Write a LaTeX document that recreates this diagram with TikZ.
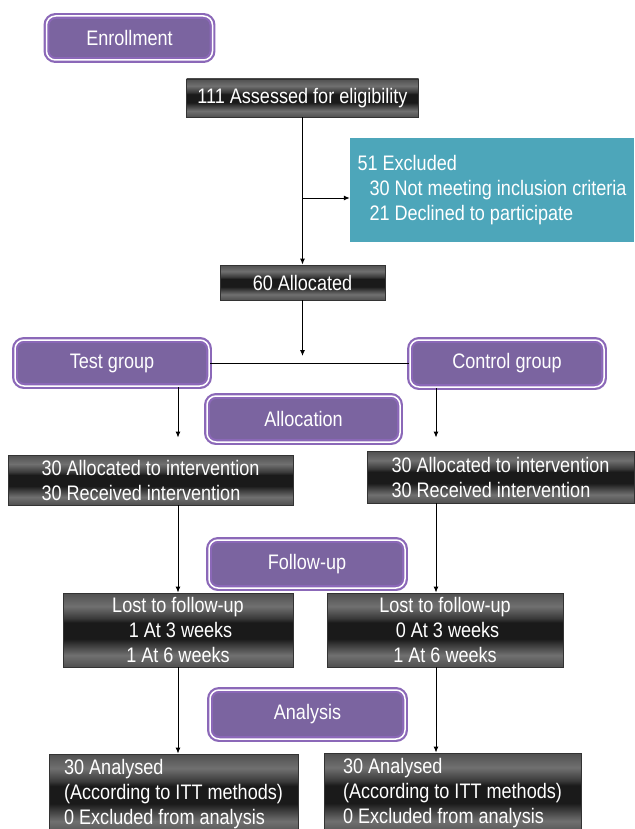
\documentclass[tikz,border=0pt]{standalone}
\usepackage{fontspec}
\setmainfont{Liberation Sans}[FakeStretch=0.86]
\usetikzlibrary{arrows.meta}

\definecolor{phasefill}{HTML}{7B64A0}
\definecolor{phaseedge}{HTML}{8B68B8}
\definecolor{exclfill}{HTML}{4DA6BA}
\definecolor{barlow}{HTML}{505050}
\definecolor{barhigh}{HTML}{707070}
\definecolor{barmid}{HTML}{3A3A3A}
\definecolor{bardark}{HTML}{1A1A1A}

% 黒い帯のグラデーション
\pgfdeclareverticalshading{barshade}{100bp}{color(0bp)=(barlow); color(25bp)=(barlow);
  color(33bp)=(barhigh); color(40bp)=(barmid); color(44bp)=(bardark); color(55bp)=(bardark);
  color(58bp)=(barmid); color(66bp)=(barhigh); color(75bp)=(barlow); color(100bp)=(barlow)}

\begin{document}
\begin{tikzpicture}[x=1pt, y=-1pt, >={Latex[length=6pt, width=5pt]},
    every node/.style={font=\fontsize{21}{25}\selectfont, text=white, inner sep=0pt},
    phase/.style={rectangle, rounded corners=9pt, fill=phasefill, draw=phaseedge,
      line width=2.2pt, double=white, double distance=1.5pt},
    bar/.style={rectangle, shading=barshade, draw=black!80, line width=0.8pt},
    link/.style={line width=1pt}]
    \path[use as bounding box, fill=white] (0,0) rectangle (634,829);

    % 段階の見出し
    \node[phase, minimum width=166, minimum height=44] (enroll) at (129.5, 38) {Enrollment};
    \node[phase, minimum width=193, minimum height=46] (allocation) at (303.5, 419) {Allocation};
    \node[phase, minimum width=196, minimum height=48] (followup) at (307, 564) {Follow-up};
    \node[phase, minimum width=195, minimum height=49] (analysis) at (307.5, 714.5) {Analysis};

    % 登録と割り付け
    \node[bar, minimum width=232, minimum height=38] (assess) at (302.5, 98) {111 Assessed for eligibility};
    \node[rectangle, fill=exclfill, minimum width=284, minimum height=104, align=left] (excl) at (492, 190)
      {51 Excluded\\\hspace*{12pt}30 Not meeting inclusion criteria\\\hspace*{12pt}21 Declined to participate};
    \node[bar, minimum width=165, minimum height=35] (alloc60) at (302.5, 282.5) {60 Allocated};

    % 2つの群
    \node[phase, minimum width=194, minimum height=46] (test) at (112, 363) {Test group};
    \node[phase, minimum width=194, minimum height=47] (control) at (507, 363.5) {Control group};

    \node[bar, minimum width=285, minimum height=50, align=left] (allocL) at (150.5, 480)
      {30 Allocated to intervention\\30 Received intervention};
    \node[bar, minimum width=267, minimum height=52, align=left] (allocR) at (500.5, 477)
      {30 Allocated to intervention\\30 Received intervention};

    \node[bar, minimum width=230, minimum height=74, align=center] (lostL) at (178, 630)
      {Lost to follow-up\\\ 1 At 3 weeks\\1 At 6 weeks};
    \node[bar, minimum width=236, minimum height=74, align=center] (lostR) at (445, 630)
      {Lost to follow-up\\\ 0 At 3 weeks\\1 At 6 weeks};

    \node[bar, minimum width=249, minimum height=80, align=left] (anL) at (173.5, 794)
      {30 Analysed\\(According to ITT methods)\\0 Excluded from analysis};
    \node[bar, minimum width=257, minimum height=81, align=left] (anR) at (452.5, 793.5)
      {30 Analysed\\(According to ITT methods)\\0 Excluded from analysis};

    % エッジを引く
    \coordinate (split) at (302.5, 198);
    \coordinate (join) at (302.5, 356);
    \coordinate (colR) at (436, 0);
    \draw[link, ->] (assess) -- (alloc60);
    \draw[link, ->] (split) -- (excl.west |- split);
    \draw[link, ->] (alloc60) -- (join);
    \draw[link] (test.east) -- (control.west |- test.east);

    \draw[link, ->, shorten >=17pt] (test.south -| lostL.north) -- (allocL.north -| lostL.north);
    \draw[link, ->, shorten >=13pt] (control.south -| colR) -- (allocR.north -| colR);
    \draw[link, ->] (allocL.south -| lostL.north) -- (lostL.north);
    \draw[link, ->] (allocR.south -| colR) -- (lostR.north -| colR);
    \draw[link, ->] (lostL.south) -- (lostL.south |- anL.north);
    \draw[link, ->] (lostR.south -| colR) -- (anR.north -| colR);
\end{tikzpicture}
\end{document}
